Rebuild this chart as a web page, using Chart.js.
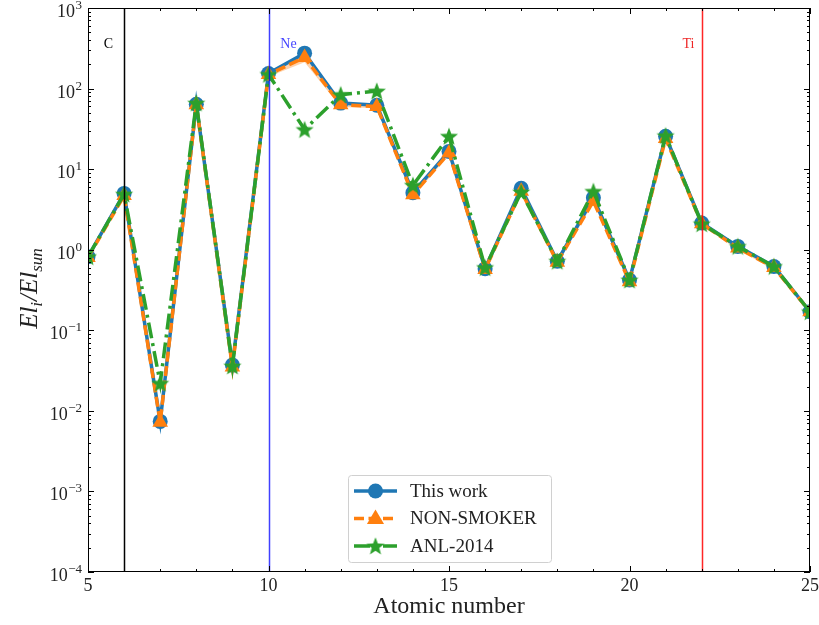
<!DOCTYPE html>
<html>
<head>
<meta charset="utf-8">
<script src="https://cdn.jsdelivr.net/npm/chart.js@4/dist/chart.umd.min.js"></script>
<style>
  html, body { margin: 0; padding: 0; background: #fff; }
  #chart { display: block; }
</style>
</head>
<body>
<canvas id="chart" width="819" height="625"></canvas>
<script>
// abundances relative to solar
const atomicNumber = [5, 6, 7, 8, 9, 10, 11, 12, 13, 14, 15, 16, 17, 18, 19, 20, 21, 22, 23, 24, 25];
const thisWork = [0.82, 5.0, 0.0074, 64, 0.037, 154, 275, 66, 62, 5.1, 16.6, 0.58, 5.8, 0.72, 4.4, 0.42, 25.6, 2.15, 1.1, 0.62, 0.17];
const nonSmoker = [0.80, 4.7, 0.0072, 63, 0.035, 150, 243, 63, 60, 4.8, 15.9, 0.57, 5.3, 0.70, 4.0, 0.40, 24, 2.1, 1.05, 0.60, 0.17];
const nonSmokerHigh = [0.86, 5.0, 0.0078, 67, 0.037, 160, 275, 67, 63, 5.1, 16.8, 0.60, 5.6, 0.74, 4.3, 0.42, 25.5, 2.2, 1.1, 0.63, 0.18];
const nonSmokerLow = [0.75, 4.4, 0.0066, 59, 0.033, 140, 212, 59, 57, 4.5, 15.0, 0.54, 5.0, 0.66, 3.8, 0.38, 22.5, 2.0, 1.0, 0.57, 0.16];
const anl2014 = [0.82, 4.9, 0.022, 66, 0.036, 150, 31, 84, 93, 6.3, 25.6, 0.60, 5.2, 0.72, 5.3, 0.42, 26, 2.1, 1.1, 0.62, 0.17];

const xMajorTicks = [5, 10, 15, 20, 25];
const yExponents = [-4, -3, -2, -1, 0, 1, 2, 3];
const elementLines = [
    { z: 6, label: 'C', color: '#000000', labelColor: '#000000', dx: -16 },
    { z: 10, label: 'Ne', color: 'rgba(0,0,255,0.75)', labelColor: 'rgba(0,0,255,0.75)', dx: 19 },
    { z: 22, label: 'Ti', color: 'rgba(255,0,0,0.85)', labelColor: 'rgba(235,0,0,0.85)', dx: -14 }
];

const colors = { blue: '#1f77b4', orange: '#ff7f0e', green: '#2ca02c' };
const serif = "'Liberation Serif', 'DejaVu Serif', serif";

function makeStar(size, color) {
    const c = document.createElement('canvas');
    c.width = size;
    c.height = size;
    const g = c.getContext('2d');
    const cx = size / 2, cy = size / 2 + 0.8;
    const outer = size / 2 - 0.5, inner = outer * 0.42;
    g.beginPath();
    for (let i = 0; i < 10; i++) {
        const r = i % 2 === 0 ? outer : inner;
        const a = -Math.PI / 2 + i * Math.PI / 5;
        g.lineTo(cx + r * Math.cos(a), cy + r * Math.sin(a));
    }
    g.closePath();
    g.fillStyle = color;
    g.fill();
    return c;
}
const starImg = makeStar(20, colors.green);

const toPoints = (vals) => atomicNumber.map((z, i) => ({ x: z, y: vals[i] }));

const legendItems = [
    { label: 'This work', color: colors.blue, dash: [], marker: 'circle' },
    { label: 'NON-SMOKER', color: colors.orange, dash: [10, 4.5], marker: 'triangle' },
    { label: 'ANL-2014', color: colors.green, dash: [16, 5, 3, 5], marker: 'star' }
];

function drawMarker(ctx, type, x, y, color) {
    ctx.save();
    ctx.fillStyle = color;
    ctx.setLineDash([]);
    if (type === 'circle') {
        ctx.beginPath();
        ctx.arc(x, y, 7.5, 0, Math.PI * 2);
        ctx.fill();
    } else if (type === 'triangle') {
        const r = 9;
        ctx.beginPath();
        ctx.moveTo(x, y - r);
        ctx.lineTo(x + r * 0.95, y + r * 0.6);
        ctx.lineTo(x - r * 0.95, y + r * 0.6);
        ctx.closePath();
        ctx.fill();
    } else {
        ctx.drawImage(starImg, x - starImg.width / 2, y - starImg.height / 2);
    }
    ctx.restore();
}

const axesPlugin = {
    id: 'axesPlugin',
    afterDatasetsDraw(chart) {
        const { ctx, chartArea: a, scales: { x, y } } = chart;
        ctx.save();
        elementLines.forEach((el) => {
            const px = Math.round(x.getPixelForValue(el.z)) + 0.5;
            ctx.strokeStyle = el.color;
            ctx.lineWidth = 1.5;
            ctx.beginPath();
            ctx.moveTo(px, a.top);
            ctx.lineTo(px, a.bottom);
            ctx.stroke();
            ctx.fillStyle = el.labelColor;
            ctx.font = '14px ' + serif;
            ctx.textAlign = 'center';
            ctx.textBaseline = 'middle';
            ctx.fillText(el.label, px + el.dx, y.getPixelForValue(350));
        });
        ctx.restore();
    },
    afterDraw(chart) {
        const { ctx, chartArea: a, scales: { x, y } } = chart;
        ctx.save();
        ctx.strokeStyle = '#000';
        ctx.lineWidth = 1;
        ctx.strokeRect(a.left + 0.5, a.top + 0.5, a.right - a.left - 1, a.bottom - a.top - 1);

        // x ticks (inward, both sides)
        ctx.beginPath();
        for (let z = 5; z <= 25; z++) {
            const px = Math.round(x.getPixelForValue(z)) + 0.5;
            const len = xMajorTicks.includes(z) ? 6 : 3;
            ctx.moveTo(px, a.bottom);
            ctx.lineTo(px, a.bottom - len);
            ctx.moveTo(px, a.top);
            ctx.lineTo(px, a.top + len);
        }
        // y ticks
        yExponents.forEach((e) => {
            for (let m = 1; m <= 9; m++) {
                const v = m * Math.pow(10, e);
                if (v > 1000 + 1e-9) break;
                const py = Math.round(y.getPixelForValue(v)) + 0.5;
                const len = m === 1 ? 6 : 3;
                ctx.moveTo(a.left, py);
                ctx.lineTo(a.left + len, py);
                ctx.moveTo(a.right, py);
                ctx.lineTo(a.right - len, py);
            }
        });
        ctx.stroke();

        // tick labels
        ctx.fillStyle = '#222';
        ctx.font = '18px ' + serif;
        ctx.textAlign = 'center';
        ctx.textBaseline = 'top';
        xMajorTicks.forEach((z) => {
            ctx.fillText(String(z), x.getPixelForValue(z), a.bottom + 5);
        });
        ctx.textAlign = 'right';
        ctx.textBaseline = 'alphabetic';
        yExponents.forEach((e) => {
            const py = y.getPixelForValue(Math.pow(10, e));
            const right = a.left - 6;
            ctx.font = '13px ' + serif;
            const expText = e < 0 ? '\u2212' + Math.abs(e) : String(e);
            const w = ctx.measureText(expText).width;
            ctx.fillText(expText, right, py + 1);
            ctx.font = '18px ' + serif;
            ctx.fillText('10', right - w - 0.5, py + 9);
        });

        // axis titles
        ctx.font = '24px ' + serif;
        ctx.textAlign = 'center';
        ctx.textBaseline = 'middle';
        ctx.fillText('Atomic number', (a.left + a.right) / 2, 607);

        ctx.translate(29, 289);
        ctx.rotate(-Math.PI / 2);
        const parts = [
            { t: 'El', f: 'italic 25px ' + serif, dy: 0 },
            { t: 'i', f: 'italic 17px ' + serif, dy: 5 },
            { t: '/El', f: 'italic 25px ' + serif, dy: 0 },
            { t: 'sun', f: 'italic 17px ' + serif, dy: 5 }
        ];
        let total = 0;
        parts.forEach((p) => { ctx.font = p.f; total += ctx.measureText(p.t).width; });
        let cx = -total / 2;
        ctx.textAlign = 'left';
        ctx.textBaseline = 'alphabetic';
        parts.forEach((p) => {
            ctx.font = p.f;
            ctx.fillText(p.t, cx, 8 + p.dy);
            cx += ctx.measureText(p.t).width + (p.t === 'i' ? 1 : 0);
        });
        ctx.restore();

        // legend
        ctx.save();
        const box = { x: 348.5, y: 475.5, w: 203, h: 87 };
        ctx.fillStyle = 'rgba(255,255,255,0.85)';
        ctx.strokeStyle = '#d0d0d0';
        ctx.lineWidth = 1;
        ctx.beginPath();
        ctx.roundRect(box.x, box.y, box.w, box.h, 3);
        ctx.fill();
        ctx.stroke();
        legendItems.forEach((item, i) => {
            const ly = 491 + i * 27.5;
            ctx.strokeStyle = item.color;
            ctx.lineWidth = 3.5;
            ctx.setLineDash(item.dash);
            ctx.beginPath();
            ctx.moveTo(354, ly);
            ctx.lineTo(397, ly);
            ctx.stroke();
            drawMarker(ctx, item.marker, 375.5, ly, item.color);
            ctx.fillStyle = '#222';
            ctx.font = '19px ' + serif;
            ctx.textAlign = 'left';
            ctx.textBaseline = 'middle';
            ctx.fillText(item.label, 410, ly + 1);
        });
        ctx.restore();
    }
};

new Chart(document.getElementById('chart').getContext('2d'), {
    type: 'line',
    data: {
        datasets: [
            {
                label: 'NON-SMOKER upper',
                data: toPoints(nonSmokerHigh),
                borderWidth: 0,
                pointRadius: 0,
                fill: false,
                order: 5
            },
            {
                label: 'NON-SMOKER lower',
                data: toPoints(nonSmokerLow),
                borderWidth: 0,
                pointRadius: 0,
                backgroundColor: 'rgba(255,127,14,0.35)',
                fill: '-1',
                order: 4
            },
            {
                label: 'This work',
                data: toPoints(thisWork),
                borderColor: colors.blue,
                backgroundColor: colors.blue,
                borderWidth: 3.5,
                pointStyle: 'circle',
                pointRadius: 7.5,
                pointBorderWidth: 0,
                fill: false,
                order: 3
            },
            {
                label: 'NON-SMOKER',
                data: toPoints(nonSmoker),
                borderColor: colors.orange,
                backgroundColor: colors.orange,
                borderWidth: 3.5,
                borderDash: [10, 4.5],
                pointStyle: 'triangle',
                pointRadius: 9,
                pointBorderWidth: 0,
                fill: false,
                order: 2
            },
            {
                label: 'ANL-2014',
                data: toPoints(anl2014),
                borderColor: colors.green,
                backgroundColor: colors.green,
                borderWidth: 3.5,
                borderDash: [16, 5, 3, 5],
                pointStyle: starImg,
                pointRadius: 9,
                fill: false,
                order: 1
            }
        ]
    },
    options: {
        responsive: false,
        animation: false,
        clip: 0,
        layout: { autoPadding: false, padding: { left: 88, right: 9, top: 8, bottom: 53 } },
        elements: { line: { tension: 0 } },
        plugins: { legend: { display: false }, tooltip: { enabled: false } },
        scales: {
            x: { type: 'linear', min: 5, max: 25, display: false },
            y: { type: 'logarithmic', min: 1e-4, max: 1e3, display: false }
        }
    },
    plugins: [axesPlugin]
});
</script>
</body>
</html>
